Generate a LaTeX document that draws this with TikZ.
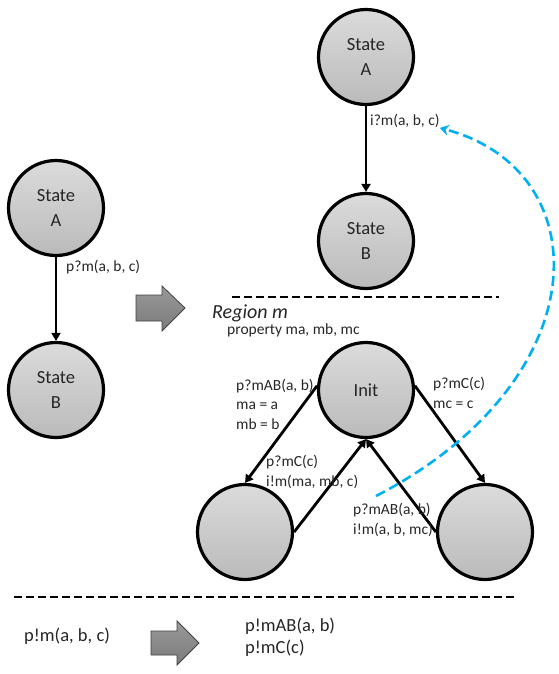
\documentclass[tikz,border=0pt]{standalone}
\usepackage{fontspec}
\setmainfont{Carlito}
\usetikzlibrary{arrows.meta}
\begin{document}
\begin{tikzpicture}[x=1pt,y=-1pt,
  state/.style={circle, draw=black, line width=3.2pt, minimum size=95pt, inner sep=0pt,
    top color=black!14, bottom color=black!27, align=center, text=black!85,
    font=\fontsize{18.5}{25}\selectfont},
  trans/.style={-{Triangle[length=8pt,width=9pt]}, line width=2.8pt},
  lbl/.style={anchor=west, inner sep=0pt, align=left, text=black!85,
    font=\fontsize{15.5}{19.5}\selectfont},
  biglbl/.style={anchor=west, inner sep=0pt, align=left, text=black!85,
    font=\fontsize{18.5}{22}\selectfont},
  separator/.style={dash pattern=on 8pt off 4pt, line width=2.8pt},
  blockarrow/.style={draw=black!75, line width=0.8pt, top color=black!40, bottom color=black!52},
  feedback/.style={draw={rgb,255:red,0;green,176;blue,240}, line width=2.6pt,
    dash pattern=on 10pt off 5pt, -{Stealth[length=9pt,width=11pt,inset=3pt]}}]
\useasboundingbox (0,0) rectangle (558,674);

% original two-state machine
\node[state] (lA) at (56,208) {State\\A};
\node[state] (lB) at (56,390) {State\\B};
\draw[trans] (lA) -- (lB);
\node[lbl] (lAB) at (66,267) {p?m(a, b, c)};

% transformation arrow
\draw[blockarrow] (136,295) -- (162,295) -- (162,286) -- (185,308) -- (162,331)
  -- (162,321) -- (136,321) -- cycle;

% resulting machine on interface i
\node[state] (rA) at (366,57) {State\\A};
\node[state] (rB) at (366,241) {State\\B};
\draw[trans] (rA) -- (rB);
\node[lbl] (rAB) at (370,121) {i?m(a, b, c)};

\coordinate (s1a) at (232,297);
\coordinate (s1b) at (499,297);
\draw[separator] (s1a) -- (s1b);

% region m
\node[biglbl, font=\fontsize{20}{22}\selectfont\itshape] (reg) at (212,313) {Region m};
\node[lbl] (prop) at (227,330) {property ma, mb, mc};

\node[state] (init) at (366,390) {Init};
\node[state] (bl) at (245,532) {};
\node[state] (br) at (485,532) {};

\draw[trans] (init.175) -- (bl.north);
\draw[trans] (bl.east) -- (init.south);
\draw[trans] (br.west) -- (init.south);
\draw[trans] (init.5) -- (br.north);

\node[lbl] (l1) at (236,404) {p?mAB(a, b)\\ma = a\\mb = b};
\node[lbl] (l2) at (433,393) {p?mC(c)\\mc = c};
\node[lbl] (l3) at (266,472) {p?mC(c)\\i!m(ma, mb, c)};
\node[lbl] (l4) at (353,520) {p?mAB(a, b)\\i!m(a, b, mc)};

% message forwarded to the interface
\coordinate (fb) at (376,496);
\draw[feedback] (fb) .. controls (600,380) and (600,170) .. (rAB.south east);

\coordinate (s2a) at (14,597);
\coordinate (s2b) at (516,597);
\draw[separator] (s2a) -- (s2b);

% sender side
\node[biglbl] (snd) at (24,636) {p!m(a, b, c)};
\draw[blockarrow] (151,631) -- (177,631) -- (177,621) -- (199,643) -- (177,665)
  -- (177,655) -- (151,655) -- cycle;
\node[biglbl] (snd2) at (245,637) {p!mAB(a, b)\\p!mC(c)};
\end{tikzpicture}
\end{document}
